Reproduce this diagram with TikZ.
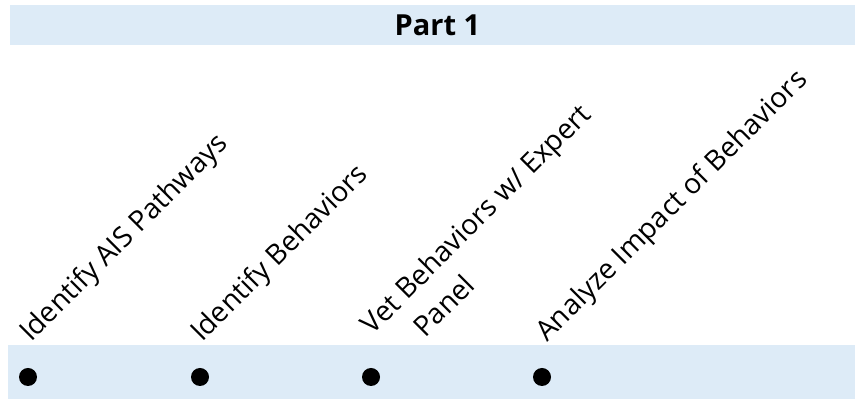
\documentclass[tikz,border=0pt]{standalone}
\usepackage{fontspec}
\setmainfont{Open Sans}
\usepackage{tikz}
\usetikzlibrary{positioning, calc}

\definecolor{bandblue}{RGB}{221,235,247}

\begin{document}
\begin{tikzpicture}[
  band/.style={fill=bandblue, draw=none},
  milestone/.style={circle, fill=black, inner sep=0pt, minimum size=0.36cm},
  steplabel/.style={rotate=45, anchor=base west, inner sep=0pt,
                    font=\fontsize{16}{19}\selectfont, align=left}
]
  \useasboundingbox (0,0) rectangle (17.1,7.98);

  % header and timeline bands
  \fill[band] (0.2,7.08) rectangle (17.1,7.88);
  \node[font=\fontsize{16.5}{19}\selectfont\bfseries] (part) at (8.75,7.48) {Part 1};
  \fill[band] (0.16,0) rectangle (17.1,1.08);

  % milestones
  \node[milestone] (d1) at (0.56,0.44)  {};
  \node[milestone] (d2) at (4.00,0.44)  {};
  \node[milestone] (d3) at (7.42,0.44)  {};
  \node[milestone] (d4) at (10.84,0.44) {};

  % step labels
  \node[steplabel] (s1) at (0.62,1.12)  {Identify AIS Pathways};
  \node[steplabel] (s2) at (4.04,1.12)  {Identify Behaviors};
  \node[steplabel] (s3) at (8.00,0.71)  {Vet Behaviors w/ Expert\\[0.11cm]\hspace*{0.7cm}Panel};
  \node[steplabel] (s4) at (10.94,1.12) {Analyze Impact of Behaviors};
\end{tikzpicture}
\end{document}
